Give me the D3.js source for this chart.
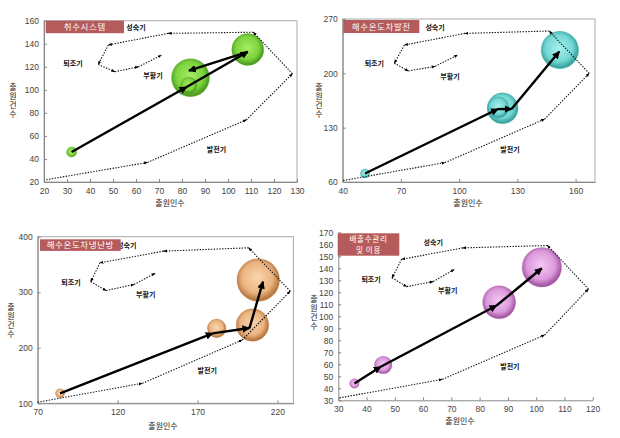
<!DOCTYPE html>
<html><head><meta charset="utf-8">
<script src="https://cdn.jsdelivr.net/npm/d3@7"></script>
<style>
body{margin:0;background:#fff;}
svg{display:block;}
.vt{writing-mode:vertical-rl;text-orientation:upright;}
</style></head>
<body>
<svg id="c" width="620" height="438"></svg>
<script>
// ---------- DATA ----------
const titles = ["취수시스템", "해수온도차발전", "해수온도차냉난방", ["배출수관리", "및 이용"]];
const stageNames = ["성숙기", "퇴조기", "부활기", "발전기"];
const xAxisTitle = "출원인수";
const yAxisTitle = "출원건수";

const p1XTicks = [20,30,40,50,60,70,80,90,100,110,120,130];
const p1YTicks = [20,40,60,80,100,120,140,160];
const p2XTicks = [40,70,100,130,160];
const p2YTicks = [60,130,200,270];
const p3XTicks = [70,120,170,220];
const p3YTicks = [100,200,300,400];
const p4XTicks = [30,40,50,60,70,80,90,100,110,120];
const p4YTicks = [30,40,50,60,70,80,90,100,110,120,130,140,150,160,170];

// technology life-cycle reference paths (dotted)
const p1Cycle = [[21,22],[65,37],[108,74],[128,114],[111,150],[74,149],[48,139],[43.6,122],[50.8,115.7],[61,120],[71,130]];
const p2Cycle = [[40.3,62],[92.7,85],[144,141],[167,200],[146.4,254.5],[103,251.5],[71.8,236.5],[66.6,213],[73.8,203],[87.6,209],[99.2,223.6]];
const p3Cycle = [[70,102],[135.5,136],[198,214],[228,302],[202,380],[148.7,374],[109,353],[103.2,319],[112.8,303],[130.3,314],[143.4,334]];
const p4Cycle = [[30.4,32],[66.8,47.5],[103,84.4],[118.5,122.8],[104,159],[74,157],[52.4,147.5],[49,132],[54.2,124.7],[63.6,129],[71,139]];

// bubbles: [출원인수, 출원건수, size]
const p1Bubbles = [[32,46,1.6],[83.7,110.5,22.5],[83,104,4],[108.6,135,16]];
const p2Bubbles = [[51.5,71,1.3],[122.4,154.9,15],[120.2,156,6.9],[151.9,230,21.9]];
const p3Bubbles = [[84,118,1.3],[182,235,5.4],[204.4,241,16.6],[208,322,28.4]];
const p4Bubbles = [[35.7,44,1.4],[45.9,59.4,4.8],[86.9,111.7,17],[102,140.8,24.3]];

// trend arrows (bold)
const p1Trend = [[32,46],[82,102.4],[108.6,133],[83,116.6]];
const p2Trend = [[51.5,71],[120,154],[127,154],[151.6,228]];
const p3Trend = [[84,118],[179.5,226],[202.5,235.5],[211,319]];
const p4Trend = [[35.7,44],[45,58],[86,109],[102,140]];

// stage label anchors (data coords): 성숙기, 퇴조기, 부활기, 발전기
const p1Stages = [[60,154],[32.6,122.4],[67.4,112],[95,48]];
const p2Stages = [[87.6,258.8],[56.3,212],[95.3,196.5],[126.2,101.2]];
const p3Stages = [[125.7,383.8],[90.8,317.2],[137.6,295],[176.1,159.4]];
const p4Stages = [[63.6,161.7],[41.6,130.8],[68.7,121.1],[90.7,58]];

// ---------- LAYOUT / STYLE ----------
const panels = [
  {title:titles[0], xd:[20,130], yd:[20,160], xt:p1XTicks, yt:p1YTicks, cycle:p1Cycle, bubbles:p1Bubbles, trend:p1Trend, stages:p1Stages,
   L:44, R:297, T:20.7, B:182, frame:true, colors:["#a6ec66","#7dd43e","#4f9f22"], tb:[45.7,20.7,78.3,12.5], xl:[170,203], yl:[13,101]},
  {title:titles[1], xd:[40,170], yd:[60,270], xt:p2XTicks, yt:p2YTicks, cycle:p2Cycle, bubbles:p2Bubbles, trend:p2Trend, stages:p2Stages,
   L:342.7, R:595, T:19, B:182, frame:true, colors:["#a8f0ec","#74d8d4","#3aa5a1"], tb:[343.3,20,76,13], xl:[468,203], yl:[319,101]},
  {title:titles[2], xd:[70,230], yd:[100,400], xt:p3XTicks, yt:p3YTicks, cycle:p3Cycle, bubbles:p3Bubbles, trend:p3Trend, stages:p3Stages,
   L:37.7, R:293.4, T:236.7, B:403.3, frame:true, colors:["#f8d6ae","#ebb480","#b97a44"], tb:[40,239.3,80.7,11.6], xl:[163,426], yl:[11,321]},
  {title:titles[3], xd:[30,120], yd:[30,170], xt:p4XTicks, yt:p4YTicks, cycle:p4Cycle, bubbles:p4Bubbles, trend:p4Trend, stages:p4Stages,
   L:338.3, R:592.7, T:232.3, B:400.3, frame:false, colors:["#f3c8f3","#dc9adc","#a65aa6"], tb:[337.7,233.3,61.6,22.4], xl:[460,421], yl:[314,313]}
];

const svg = d3.select("#c");
const defs = svg.append("defs");
const KR = "'Noto Sans CJK KR','Noto Sans',sans-serif";
const NUM = "'Liberation Sans',Arial,sans-serif";

defs.append("marker").attr("id","arrBold").attr("viewBox","0 0 10 10").attr("refX",9).attr("refY",5)
  .attr("markerWidth",3.2).attr("markerHeight",3.2).attr("markerUnits","strokeWidth").attr("orient","auto")
  .append("path").attr("d","M0,0 L10,5 L0,10 z").attr("fill","#000");
defs.append("marker").attr("id","arrDot").attr("viewBox","0 0 10 10").attr("refX",9).attr("refY",5)
  .attr("markerWidth",3.5).attr("markerHeight",3.5).attr("markerUnits","strokeWidth").attr("orient","auto")
  .append("path").attr("d","M0,1 L10,5 L0,9 z").attr("fill","#000");

const rScale = d3.scaleSqrt().domain([0,25]).range([0,20]);

panels.forEach((p, i) => {
  const g = svg.append("g");
  const x = d3.scaleLinear().domain(p.xd).range([p.L, p.R]);
  const y = d3.scaleLinear().domain(p.yd).range([p.B, p.T]);

  const gr = defs.append("radialGradient").attr("id","bg"+i).attr("cx","48%").attr("cy","45%").attr("r","55%");
  gr.append("stop").attr("offset","0%").attr("stop-color",p.colors[0]);
  gr.append("stop").attr("offset","65%").attr("stop-color",p.colors[1]);
  gr.append("stop").attr("offset","92%").attr("stop-color",p.colors[2]);
  gr.append("stop").attr("offset","100%").attr("stop-color",p.colors[2]);

  if (p.frame) {
    g.append("rect").attr("x",p.L).attr("y",p.T).attr("width",p.R-p.L).attr("height",p.B-p.T)
      .attr("fill","none").attr("stroke","#aaa").attr("stroke-width",1);
  }

  const ax = g.append("g").attr("transform",`translate(0,${p.B})`)
    .call(d3.axisBottom(x).tickValues(p.xt).tickSizeInner(-3).tickSizeOuter(0).tickPadding(6));
  const ay = g.append("g").attr("transform",`translate(${p.L},0)`)
    .call(d3.axisLeft(y).tickValues(p.yt).tickSizeInner(-3).tickSizeOuter(0).tickPadding(5));
  [ax, ay].forEach(a => {
    a.select(".domain").attr("stroke","#888");
    a.selectAll(".tick line").attr("stroke","#888");
    a.selectAll("text").attr("font-family",NUM).attr("font-size","8.5px").attr("fill","#444");
  });

  const bs = p.bubbles.slice().sort((a,b)=>b[2]-a[2]);
  g.selectAll("circle.b").data(bs).join("circle").attr("class","b")
    .attr("cx",d=>x(d[0])).attr("cy",d=>y(d[1])).attr("r",d=>rScale(d[2]))
    .attr("fill",`url(#bg${i})`).attr("stroke",p.colors[2]).attr("stroke-width",0.5).attr("stroke-opacity",0.6);

  const segs = d3.pairs(p.cycle);
  g.selectAll("line.c").data(segs).join("line").attr("class","c")
    .attr("x1",d=>x(d[0][0])).attr("y1",d=>y(d[0][1]))
    .attr("x2",d=>x(d[1][0])).attr("y2",d=>y(d[1][1]))
    .attr("stroke","#111").attr("stroke-width",1.1).attr("stroke-dasharray","1.4,1.4")
    .attr("marker-end","url(#arrDot)");

  const tsegs = d3.pairs(p.trend);
  g.selectAll("line.t").data(tsegs).join("line").attr("class","t")
    .attr("x1",d=>x(d[0][0])).attr("y1",d=>y(d[0][1]))
    .attr("x2",d=>x(d[1][0])).attr("y2",d=>y(d[1][1]))
    .attr("stroke","#000").attr("stroke-width",2.4)
    .attr("marker-end","url(#arrBold)");

  g.selectAll("text.s").data(p.stages).join("text").attr("class","s")
    .attr("x",d=>x(d[0])).attr("y",d=>y(d[1])).attr("dy","0.35em")
    .attr("text-anchor","middle").attr("font-family",KR).attr("font-size","7px").attr("font-weight","bold")
    .attr("fill","#111").text((d,k)=>stageNames[k]);

  g.append("rect").attr("x",p.tb[0]).attr("y",p.tb[1]).attr("width",p.tb[2]).attr("height",p.tb[3]).attr("fill","#b65b5b");
  const lines = Array.isArray(p.title) ? p.title : [p.title];
  const multi = lines.length > 1;
  const fs = multi ? 7.6 : 8.5;
  const lh = 11;
  const cy0 = p.tb[1] + p.tb[3]/2 - (lines.length-1)*lh/2;
  lines.forEach((t,k) => {
    g.append("text").attr("x",p.tb[0]+p.tb[2]/2).attr("y",cy0+k*lh).attr("dy","0.36em")
      .attr("text-anchor","middle").attr("font-family",KR).attr("font-size",fs+"px")
      .attr("letter-spacing","0.6px").attr("fill","#fff").text(t);
  });

  g.append("text").attr("x",p.xl[0]).attr("y",p.xl[1]).attr("dy","0.35em").attr("text-anchor","middle")
    .attr("font-family",KR).attr("font-size","8px").attr("fill","#222").text(xAxisTitle);
  g.append("text").attr("class","vt").attr("x",p.yl[0]).attr("y",p.yl[1])
    .attr("text-anchor","middle").attr("font-family",KR).attr("font-size","8px")
    .attr("letter-spacing","1px").attr("fill","#222").text(yAxisTitle);
});
</script>
</body></html>
